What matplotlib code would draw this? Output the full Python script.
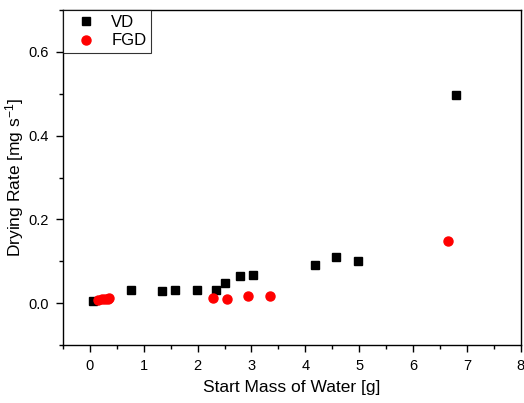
import matplotlib
matplotlib.use("Agg")
import matplotlib.pyplot as plt
from matplotlib.ticker import MultipleLocator

# Data
vd_mass = [0.06, 0.76, 1.34, 1.59, 1.98, 2.34, 2.50, 2.79, 3.03, 4.18, 4.57, 4.98, 6.79]
vd_rate = [0.004, 0.032, 0.029, 0.031, 0.032, 0.032, 0.047, 0.064, 0.066, 0.091, 0.110, 0.100, 0.497]

fgd_mass = [0.15, 0.22, 0.28, 0.33, 0.36, 2.29, 2.55, 2.94, 3.35, 6.65]
fgd_rate = [0.007, 0.009, 0.010, 0.011, 0.012, 0.012, 0.011, 0.016, 0.018, 0.148]

x_ticks = [0, 1, 2, 3, 4, 5, 6, 7, 8]
y_ticks = [0.0, 0.2, 0.4, 0.6]

plt.rcParams["font.family"] = ["Liberation Sans", "DejaVu Sans"]
plt.rcParams["mathtext.fontset"] = "custom"
plt.rcParams["mathtext.rm"] = "Liberation Sans"
plt.rcParams["mathtext.it"] = "Liberation Sans"

fig = plt.figure(figsize=(5.24, 4.03), dpi=100)
ax = fig.add_axes([0.120, 0.144, 0.874, 0.831])

ax.plot(vd_mass, vd_rate, "s", color="black", markersize=6, label="VD")
ax.plot(fgd_mass, fgd_rate, "o", color="red", markersize=6.5, label="FGD")

ax.set_xlim(-0.5, 8)
ax.set_ylim(-0.1, 0.7)
ax.set_xticks(x_ticks)
ax.set_yticks(y_ticks)
ax.set_yticklabels([f"{v:.1f}" for v in y_ticks])
ax.xaxis.set_minor_locator(MultipleLocator(0.5))
ax.yaxis.set_minor_locator(MultipleLocator(0.1))
ax.tick_params(which="major", direction="out", length=5, width=1, labelsize=10.5, pad=5)
ax.tick_params(which="minor", direction="out", length=3, width=1)
for s in ax.spines.values():
    s.set_linewidth(1)

ax.set_xlabel("Start Mass of Water [g]", fontsize=12.5, labelpad=5)
ax.set_ylabel("Drying Rate [mg s$^{\\mathrm{-1}}$]", fontsize=12.5, labelpad=2)

leg = ax.legend(loc="upper left", fontsize=12, frameon=True, fancybox=False,
                borderaxespad=0, handlelength=2.2, handletextpad=0.4,
                borderpad=0.3, labelspacing=0.2)
leg.get_frame().set_edgecolor("black")
leg.get_frame().set_linewidth(0.8)

fig.savefig("out.png", dpi=100)
plt.close(fig)
